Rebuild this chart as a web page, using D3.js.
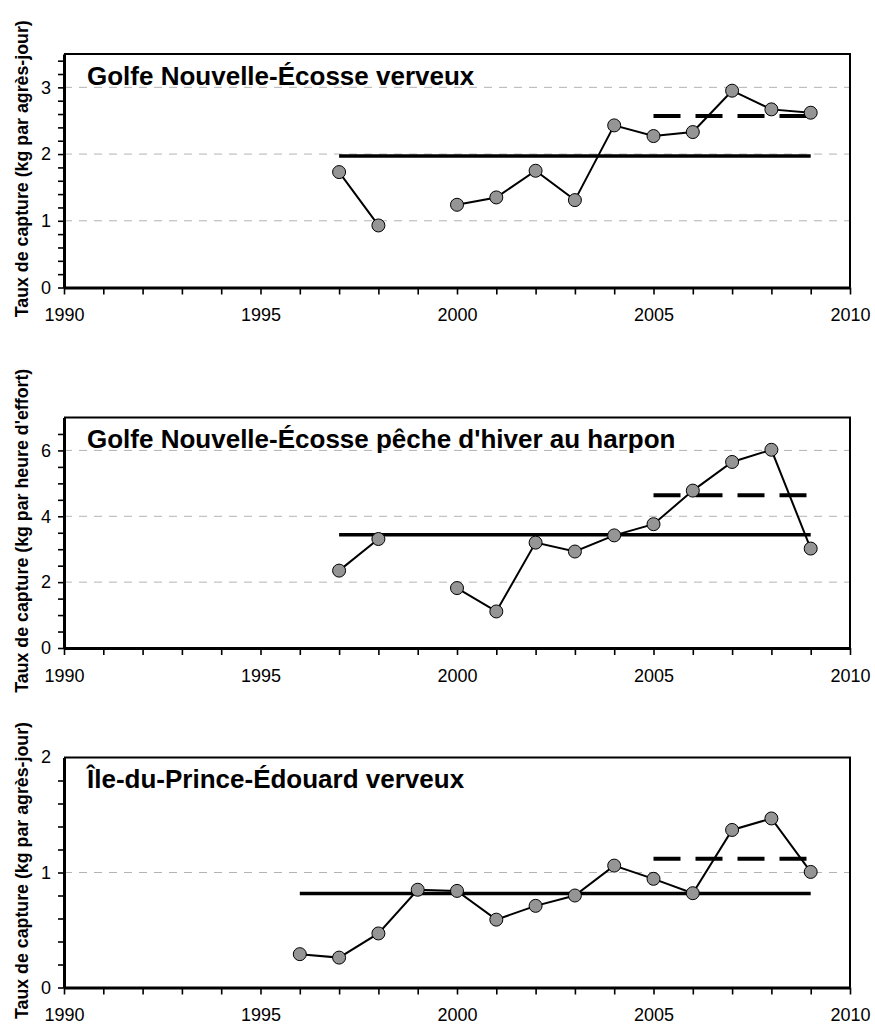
<!DOCTYPE html>
<html>
<head>
<meta charset="utf-8">
<script src="https://cdn.jsdelivr.net/npm/d3@7"></script>
<style>
  body { margin: 0; background: #fff; }
  text { font-family: "Liberation Sans", Arial, sans-serif; fill: #000; }
</style>
</head>
<body>
<div id="container"></div>
<script>
/* DATA */
const yearLabels = [1990, 1995, 2000, 2005, 2010];

// Golfe Nouvelle-Écosse, verveux
const nsTrapYears = [1997, 1998, 2000, 2001, 2002, 2003, 2004, 2005, 2006, 2007, 2008, 2009];
const nsTrapRate  = [1.73, 0.93, 1.24, 1.35, 1.75, 1.31, 2.43, 2.27, 2.33, 2.95, 2.67, 2.62];
const nsTrapMean = 1.97, nsTrapRecent = 2.57;

// Golfe Nouvelle-Écosse, pêche d'hiver au harpon
const nsSpearYears = [1997, 1998, 2000, 2001, 2002, 2003, 2004, 2005, 2006, 2007, 2008, 2009];
const nsSpearRate  = [2.35, 3.31, 1.82, 1.11, 3.20, 2.93, 3.42, 3.76, 4.78, 5.65, 6.02, 3.02];
const nsSpearMean = 3.44, nsSpearRecent = 4.64;

// Île-du-Prince-Édouard, verveux
const peiTrapYears = [1996, 1997, 1998, 1999, 2000, 2001, 2002, 2003, 2004, 2005, 2006, 2007, 2008, 2009];
const peiTrapRate  = [0.29, 0.26, 0.47, 0.85, 0.84, 0.59, 0.71, 0.80, 1.06, 0.945, 0.82, 1.37, 1.47, 1.005];
const peiTrapMean = 0.817, peiTrapRecent = 1.12;

const titles = ["Golfe Nouvelle-Écosse verveux", "Golfe Nouvelle-Écosse pêche d'hiver au harpon", "Île-du-Prince-Édouard verveux"];
const yLabels = ["Taux de capture (kg par agrès-jour)", "Taux de capture (kg par heure d'effort)", "Taux de capture (kg par agrès-jour)"];
const yMax = [3.5, 7, 2];
const yMinorStep = [0.2, 0.5, 0.2];
const yMajorStep = [1, 2, 1];

/* LAYOUT */
const width = 875, height = 1025;
const left = 64, right = 850;
const panelTops = [54, 417.5, 757.5];
const panelBottoms = [287.5, 648, 987.5];

const panels = [
  { years: nsTrapYears, rate: nsTrapRate, mean: nsTrapMean, recent: nsTrapRecent, start: 1997 },
  { years: nsSpearYears, rate: nsSpearRate, mean: nsSpearMean, recent: nsSpearRecent, start: 1997 },
  { years: peiTrapYears, rate: peiTrapRate, mean: peiTrapMean, recent: peiTrapRecent, start: 1996 }
];

const svg = d3.select("#container").append("svg")
  .attr("width", width)
  .attr("height", height);

const x = d3.scaleLinear().domain([1990, 2010]).range([left, right]);
const allYears = d3.range(1990, 2011);

panels.forEach((p, i) => {
  const top = panelTops[i], bottom = panelBottoms[i];
  const y = d3.scaleLinear().domain([0, yMax[i]]).range([bottom, top]);
  const g = svg.append("g");

  // grid
  const majors = d3.range(1, Math.floor(yMax[i] / yMajorStep[i]) + 1)
    .map(k => k * yMajorStep[i]).filter(v => v < yMax[i]);
  g.selectAll(".grid").data(majors).join("line")
    .attr("x1", left).attr("x2", right)
    .attr("y1", d => y(d)).attr("y2", d => y(d))
    .attr("stroke", "#b3b3b3").attr("stroke-width", 1)
    .attr("stroke-dasharray", "8,7");

  // top/right frame
  g.append("path")
    .attr("d", `M${left},${top}H${right}V${bottom}`)
    .attr("fill", "none").attr("stroke", "#000").attr("stroke-width", 2);

  // axes
  const nMinor = Math.round(yMax[i] / yMinorStep[i]);
  const yTicks = d3.range(0, nMinor).map(k => +(k * yMinorStep[i]).toFixed(2));
  const yAxis = d3.axisLeft(y)
    .tickValues(yTicks)
    .tickSize(6).tickSizeOuter(0).tickPadding(7)
    .tickFormat(d => (Math.abs(d / yMajorStep[i] - Math.round(d / yMajorStep[i])) < 1e-6) ? d : "");
  const ya = g.append("g").attr("transform", `translate(${left},0)`).call(yAxis);

  const xAxis = d3.axisBottom(x)
    .tickValues(allYears)
    .tickSize(7).tickSizeOuter(0).tickPadding(14)
    .tickFormat(d => yearLabels.includes(d) ? d : "");
  const xa = g.append("g").attr("transform", `translate(0,${bottom})`).call(xAxis);

  [ya, xa].forEach(a => {
    a.select(".domain").attr("stroke", "#000").attr("stroke-width", 3);
    a.selectAll(".tick line").attr("stroke", "#000").attr("stroke-width", 1.6);
    a.selectAll(".tick text").attr("font-size", 18).attr("font-family", "Liberation Sans, Arial, sans-serif").attr("fill", "#000");
  });
  // top label when the max is a major value (panel 3: "2")
  if (Math.abs(yMax[i] % yMajorStep[i]) < 1e-6) {
    g.append("text")
      .attr("x", left - 13).attr("y", y(yMax[i])).attr("dy", "0.32em")
      .attr("text-anchor", "end").attr("font-size", 18)
      .text(yMax[i]);
  }

  // mean lines
  g.append("line")
    .attr("x1", x(p.start)).attr("x2", x(2009))
    .attr("y1", y(p.mean)).attr("y2", y(p.mean))
    .attr("stroke", "#000").attr("stroke-width", 3.5);
  g.append("line")
    .attr("x1", x(2005)).attr("x2", x(2009))
    .attr("y1", y(p.recent)).attr("y2", y(p.recent))
    .attr("stroke", "#000").attr("stroke-width", 4)
    .attr("stroke-dasharray", "27,15");

  // series line, broken at missing years
  const pts = d3.range(p.years[0], 2010).map(yr => {
    const k = p.years.indexOf(yr);
    return { year: yr, v: k >= 0 ? p.rate[k] : null };
  });
  const line = d3.line()
    .defined(d => d.v !== null)
    .x(d => x(d.year)).y(d => y(d.v));
  g.append("path")
    .datum(pts)
    .attr("d", line)
    .attr("fill", "none").attr("stroke", "#000").attr("stroke-width", 2);

  g.selectAll(".pt").data(p.years.map((yr, k) => ({ year: yr, v: p.rate[k] })))
    .join("circle")
    .attr("cx", d => x(d.year)).attr("cy", d => y(d.v))
    .attr("r", 6.5)
    .attr("fill", "#959595").attr("stroke", "#000").attr("stroke-width", 1);

  // title
  g.append("text")
    .attr("x", left + 23).attr("y", top + 30.5)
    .attr("font-size", 26).attr("font-weight", "bold")
    .text(titles[i]);

  // y label
  g.append("text")
    .attr("transform", `translate(27.5,${(top + bottom) / 2 - 2}) rotate(-90)`)
    .attr("text-anchor", "middle")
    .attr("font-size", 17.8).attr("font-weight", "bold")
    .text(yLabels[i]);
});
</script>
</body>
</html>
